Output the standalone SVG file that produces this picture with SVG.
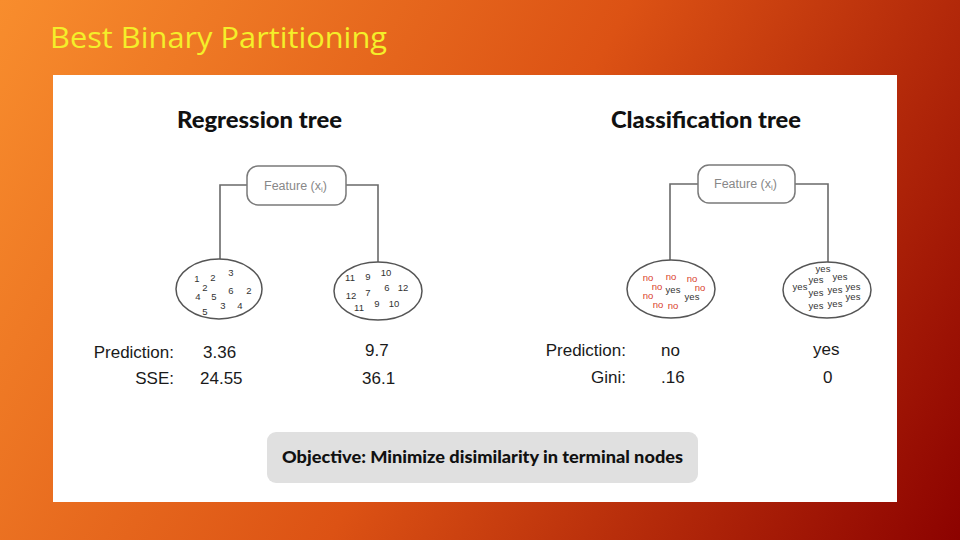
<svg xmlns="http://www.w3.org/2000/svg" width="960" height="540" viewBox="0 0 960 540">
<defs>
<linearGradient id="bg" x1="0" y1="0" x2="960" y2="540" gradientUnits="userSpaceOnUse">
<stop offset="0" stop-color="#f88d2d"/>
<stop offset="0.5" stop-color="#dc5214"/>
<stop offset="1" stop-color="#8c0200"/>
</linearGradient>
<style>
.hd{font-family:"Lato","Open Sans",sans-serif;font-weight:900;font-size:22px;fill:#111}
.feat{font-family:"Liberation Sans",Arial,sans-serif;font-size:12.5px;fill:#888}
.fbox{fill:#fff;stroke:#7a7a7a;stroke-width:1.5}
.leaf{fill:#fff;stroke:#555;stroke-width:1.5}
.num{font-family:"Liberation Sans",Arial,sans-serif;font-size:9.5px;fill:#333;text-anchor:middle}
.no{fill:#d9412b}
.lbl{font-family:"Liberation Sans",Arial,sans-serif;font-size:17px;fill:#1a1a1a}
.conn{fill:none;stroke:#6a6a6a;stroke-width:1.6}
</style>
</defs>
<rect x="0" y="0" width="960" height="540" fill="url(#bg)"/>
<text x="50" y="48" font-family="Open Sans, sans-serif" font-size="29" fill="#f4ef2a" textLength="337" lengthAdjust="spacingAndGlyphs">Best Binary Partitioning</text>
<rect x="53" y="75" width="844" height="427" fill="#fff"/>

<text class="hd" x="177" y="128" textLength="165" lengthAdjust="spacingAndGlyphs">Regression tree</text>
<text class="hd" x="611" y="128" textLength="190" lengthAdjust="spacingAndGlyphs">Classification tree</text>

<g id="connectors">
<path class="conn" d="M247,185 H220 V260"/>
<path class="conn" d="M346,185 H378 V262"/>
<path class="conn" d="M698,184 H670 V260"/>
<path class="conn" d="M795,184 H828 V262"/>
</g>

<g id="reg-root">
<rect class="fbox" x="247" y="166" width="99" height="39" rx="11"/>
<text class="feat" x="264" y="190">Feature (x<tspan font-size="8" dy="2">i</tspan><tspan dy="-2">)</tspan></text>
</g>

<g id="reg-left">
<ellipse class="leaf" cx="219" cy="289" rx="43" ry="30"/>
<text class="num" x="197" y="282">1</text>
<text class="num" x="213" y="281">2</text>
<text class="num" x="231" y="276">3</text>
<text class="num" x="205" y="291">2</text>
<text class="num" x="231" y="294">6</text>
<text class="num" x="249" y="294">2</text>
<text class="num" x="198" y="300">4</text>
<text class="num" x="214" y="300">5</text>
<text class="num" x="223" y="309">3</text>
<text class="num" x="240" y="309">4</text>
<text class="num" x="205" y="315">5</text>
</g>

<g id="reg-right">
<ellipse class="leaf" cx="378" cy="291" rx="44" ry="29"/>
<text class="num" x="350" y="281">11</text>
<text class="num" x="368" y="280">9</text>
<text class="num" x="386" y="276">10</text>
<text class="num" x="387" y="291">6</text>
<text class="num" x="403" y="291">12</text>
<text class="num" x="351" y="299">12</text>
<text class="num" x="368" y="296">7</text>
<text class="num" x="377" y="307">9</text>
<text class="num" x="394" y="307">10</text>
<text class="num" x="359" y="311">11</text>
</g>

<g id="cls-root">
<rect class="fbox" x="698" y="165" width="97" height="38" rx="11"/>
<text class="feat" x="714" y="188">Feature (x<tspan font-size="8" dy="2">i</tspan><tspan dy="-2">)</tspan></text>
</g>

<g id="cls-left">
<ellipse class="leaf" cx="671" cy="289" rx="44" ry="29"/>
<text class="num no" x="648" y="281">no</text>
<text class="num no" x="671" y="280">no</text>
<text class="num no" x="692" y="282">no</text>
<text class="num no" x="657" y="290">no</text>
<text class="num" x="673" y="293">yes</text>
<text class="num no" x="700" y="291">no</text>
<text class="num no" x="648" y="299">no</text>
<text class="num" x="692" y="300">yes</text>
<text class="num no" x="658" y="308">no</text>
<text class="num no" x="673" y="309">no</text>
</g>

<g id="cls-right">
<ellipse class="leaf" cx="827" cy="290" rx="44" ry="28"/>
<text class="num" x="823" y="272">yes</text>
<text class="num" x="816" y="283">yes</text>
<text class="num" x="840" y="280">yes</text>
<text class="num" x="800" y="290">yes</text>
<text class="num" x="816" y="296">yes</text>
<text class="num" x="835" y="293">yes</text>
<text class="num" x="853" y="290">yes</text>
<text class="num" x="853" y="300">yes</text>
<text class="num" x="816" y="309">yes</text>
<text class="num" x="835" y="307">yes</text>
</g>

<g id="reg-stats">
<text class="lbl" x="174" y="358" text-anchor="end">Prediction:</text>
<text class="lbl" x="203" y="358">3.36</text>
<text class="lbl" x="365" y="356">9.7</text>
<text class="lbl" x="174" y="384" text-anchor="end">SSE:</text>
<text class="lbl" x="200" y="384">24.55</text>
<text class="lbl" x="362" y="384">36.1</text>
</g>

<g id="cls-stats">
<text class="lbl" x="626" y="356" text-anchor="end">Prediction:</text>
<text class="lbl" x="661" y="356">no</text>
<text class="lbl" x="813" y="355">yes</text>
<text class="lbl" x="626" y="383" text-anchor="end">Gini:</text>
<text class="lbl" x="661" y="383">.16</text>
<text class="lbl" x="823" y="383">0</text>
</g>

<g id="objective">
<rect x="267" y="432" width="431" height="51" rx="9" fill="#e0e0e0"/>
<text x="282" y="463" font-family="Lato, Open Sans, sans-serif" font-weight="900" font-size="17" fill="#111" textLength="401" lengthAdjust="spacingAndGlyphs">Objective: Minimize disimilarity in terminal nodes</text>
</g>
</svg>
